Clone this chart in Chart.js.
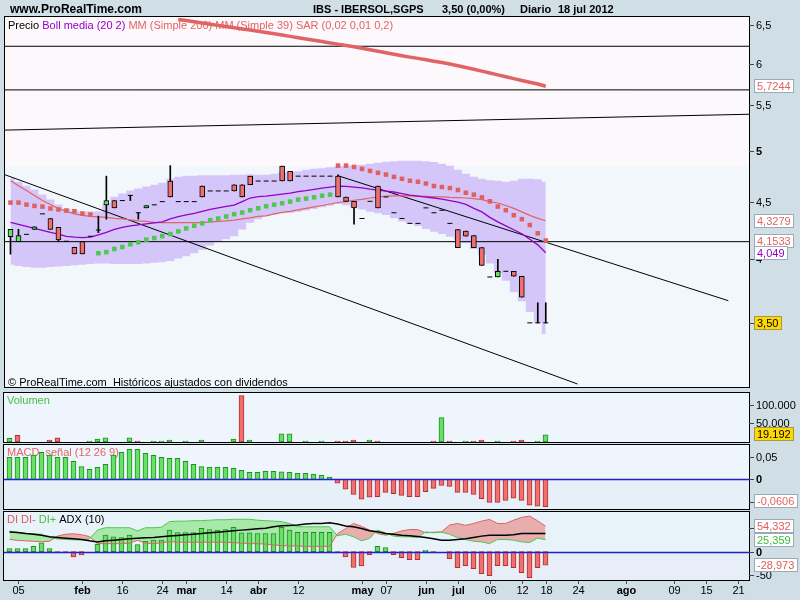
<!DOCTYPE html>
<html><head><meta charset="utf-8"><title>IBS - IBERSOL,SGPS</title>
<script src="https://cdn.jsdelivr.net/npm/chart.js@4.4.1/dist/chart.umd.min.js"></script>
<style>
html,body{margin:0;padding:0;background:#d0dee6;}
body{width:800px;height:600px;position:relative;overflow:hidden}
canvas{position:absolute;left:0}
</style></head>
<body>
<canvas id="cMain" width="800" height="392" style="top:0px"></canvas>
<canvas id="cVol" width="800" height="51" style="top:392px"></canvas>
<canvas id="cMacd" width="800" height="68" style="top:443px"></canvas>
<canvas id="cDi" width="800" height="90" style="top:510px"></canvas>
<script>
// ---------------- DATA ----------------
const open = [4.187,4.144,4.207,4.251,4.39,4.348,4.268,4.147,4.096,4.144,
 4.19,4.245,4.473,4.513,4.513,4.562,4.40,4.445,4.473,4.503,
 4.70,4.503,4.503,4.503,4.652,4.604,4.604,4.604,4.664,4.664,
 4.748,4.70,4.70,4.70,4.848,4.797,4.748,4.748,4.748,4.748,
 4.748,4.748,4.547,4.506,4.348,4.506,4.652,4.547,4.40,4.348,
 4.304,4.304,4.445,4.40,4.423,4.304,4.248,4.236,4.196,4.093,
 3.85,3.85,3.896,3.896,3.856,3.50,3.50,3.50];
const high = [4.251,4.251,4.207,4.274,4.39,4.348,4.268,4.147,4.096,4.144,
 4.19,4.369,4.748,4.513,4.513,4.562,4.40,4.466,4.473,4.503,
 4.853,4.503,4.503,4.503,4.652,4.604,4.604,4.604,4.664,4.664,
 4.748,4.70,4.70,4.70,4.848,4.797,4.748,4.748,4.748,4.748,
 4.748,4.761,4.547,4.506,4.348,4.506,4.652,4.547,4.40,4.348,
 4.304,4.304,4.445,4.40,4.423,4.304,4.248,4.236,4.196,4.093,
 3.85,3.995,3.896,3.896,3.856,3.50,3.649,3.649];
const low = [4.037,4.144,4.207,4.251,4.39,4.251,4.147,4.147,4.039,4.039,
 4.19,4.222,4.342,4.445,4.513,4.513,4.342,4.445,4.473,4.503,
 4.547,4.503,4.503,4.503,4.547,4.604,4.604,4.604,4.604,4.547,
 4.664,4.70,4.70,4.70,4.70,4.70,4.748,4.748,4.748,4.748,
 4.748,4.547,4.506,4.297,4.348,4.506,4.445,4.547,4.40,4.348,
 4.304,4.304,4.445,4.40,4.423,4.304,4.093,4.192,4.093,3.944,
 3.85,3.85,3.896,3.856,3.692,3.50,3.50,3.50];
const close = [4.251,4.196,4.207,4.274,4.39,4.251,4.158,4.147,4.039,4.039,
 4.19,4.245,4.513,4.445,4.513,4.562,4.40,4.466,4.473,4.503,
 4.547,4.503,4.503,4.503,4.547,4.604,4.604,4.604,4.604,4.547,
 4.664,4.70,4.70,4.70,4.70,4.70,4.748,4.748,4.748,4.748,
 4.748,4.547,4.506,4.445,4.348,4.506,4.445,4.547,4.40,4.348,
 4.304,4.304,4.445,4.40,4.423,4.304,4.093,4.192,4.093,3.944,
 3.85,3.896,3.896,3.856,3.692,3.50,3.50,3.50];

const bollUp = [4.733,4.693,4.655,4.617,4.570,4.522,4.477,4.440,4.421,4.412,
 4.412,4.412,4.486,4.550,4.579,4.608,4.627,4.646,4.665,4.684,
 4.723,4.742,4.752,4.752,4.757,4.757,4.757,4.757,4.762,4.762,
 4.767,4.762,4.762,4.772,4.787,4.792,4.797,4.812,4.822,4.827,
 4.837,4.847,4.852,4.857,4.862,4.872,4.882,4.892,4.897,4.902,
 4.902,4.902,4.897,4.889,4.872,4.852,4.812,4.772,4.742,4.723,
 4.708,4.703,4.693,4.703,4.723,4.723,4.718,4.693];
const bollMid = [4.313,4.295,4.277,4.260,4.242,4.225,4.208,4.190,4.182,4.179,
 4.182,4.202,4.225,4.251,4.269,4.282,4.291,4.300,4.309,4.317,
 4.344,4.364,4.380,4.394,4.412,4.431,4.445,4.458,4.470,4.503,
 4.537,4.550,4.555,4.565,4.574,4.584,4.598,4.608,4.620,4.632,
 4.641,4.651,4.649,4.641,4.633,4.622,4.613,4.603,4.594,4.579,
 4.565,4.555,4.546,4.537,4.527,4.513,4.499,4.477,4.440,4.408,
 4.358,4.317,4.282,4.247,4.212,4.164,4.116,4.049];
const bollLow = [3.95,3.94,3.93,3.925,3.925,3.93,3.935,3.94,3.945,3.95,
 3.955,3.96,3.96,3.955,3.955,3.955,3.955,3.96,3.965,3.97,
 3.98,4.00,4.02,4.045,4.075,4.11,4.14,4.165,4.19,4.25,
 4.31,4.34,4.37,4.385,4.395,4.40,4.41,4.42,4.435,4.45,
 4.465,4.48,4.47,4.45,4.43,4.41,4.395,4.38,4.35,4.32,
 4.30,4.28,4.255,4.23,4.21,4.185,4.16,4.13,4.08,4.03,
 3.96,3.88,3.82,3.73,3.66,3.58,3.50,3.42];
const mm39 = [4.703,4.655,4.608,4.560,4.513,4.477,4.440,4.412,4.390,4.376,
 4.367,4.362,4.358,4.349,4.344,4.335,4.326,4.322,4.313,4.310,
 4.310,4.310,4.310,4.310,4.310,4.317,4.322,4.326,4.333,4.344,
 4.353,4.367,4.371,4.390,4.403,4.412,4.426,4.440,4.454,4.467,
 4.481,4.495,4.503,4.516,4.525,4.537,4.546,4.555,4.557,4.557,
 4.557,4.555,4.552,4.550,4.547,4.543,4.541,4.537,4.532,4.522,
 4.503,4.490,4.467,4.440,4.408,4.376,4.349,4.3279];
const mm200 = [null,null,null,null,null,null,null,null,null,null,
 null,null,null,null,null,null,null,null,null,null,
 null,6.577,6.561,6.544,6.528,6.512,6.496,6.480,6.464,6.448,
 6.433,6.417,6.400,6.383,6.366,6.349,6.332,6.315,6.298,6.281,
 6.263,6.245,6.230,6.213,6.194,6.175,6.156,6.137,6.118,6.099,
 6.081,6.065,6.047,6.030,6.013,5.994,5.973,5.951,5.929,5.907,
 5.884,5.861,5.838,5.815,5.792,5.771,5.750,5.7244];
const sar = [4.494,4.494,4.475,4.463,4.457,4.439,4.430,4.420,4.414,4.393,
 4.384,4.045,4.054,4.081,4.098,4.121,4.138,4.161,4.175,4.192,
 4.210,4.233,4.259,4.283,4.304,4.333,4.348,4.366,4.387,4.402,
 4.423,4.441,4.460,4.475,4.488,4.503,4.522,4.531,4.543,4.559,
 4.569,4.853,4.853,4.840,4.820,4.800,4.781,4.764,4.741,4.722,
 4.703,4.693,4.676,4.652,4.642,4.632,4.613,4.587,4.569,4.543,
 4.506,4.457,4.423,4.378,4.342,4.289,4.216,4.1533];

const volume = [10000,18300,null,null,null,5500,11000,null,null,null,
 2700,8200,11000,null,null,11000,2700,null,2700,2700,
 5500,null,2700,null,5500,null,null,null,8200,124900,
 5500,null,null,null,21900,21900,null,2700,null,2700,
 null,2700,2700,5500,null,5500,2700,null,null,null,
 null,null,null,2700,65500,2700,null,2700,2700,5500,
 null,2700,null,2700,5500,null,2700,19192];

const macd = [0.0487,0.0487,0.0487,0.0538,0.0597,0.0538,0.0487,0.0487,0.0398,0.0279,
 0.0221,0.0265,0.0332,0.0538,0.0597,0.0664,0.0664,0.0575,0.0531,0.0487,
 0.0465,0.0465,0.0398,0.0332,0.0279,0.0265,0.0265,0.0265,0.0243,0.0199,
 0.0155,0.0155,0.0177,0.0177,0.0166,0.0155,0.0133,0.0133,0.0117,0.0088,
 0.0051,-0.0088,-0.0221,-0.0332,-0.0442,-0.0398,-0.0385,-0.0288,-0.0319,-0.0354,
 -0.0385,-0.0385,-0.0274,-0.0199,-0.0133,-0.0155,-0.0288,-0.0288,-0.0332,-0.0429,
 -0.0509,-0.0509,-0.0465,-0.0420,-0.0465,-0.0575,-0.0597,-0.0606];

const diHist = [6.4,6.4,6.4,11.4,18.6,6.4,-2.9,-2.9,-11.4,-7.2,
 0,15.7,35,31.5,30,35,15,22,24.3,24.3,
 45.8,40.8,40.8,40.8,49.4,47.2,45.8,47.2,51.5,40,
 40,38.6,38.6,38.6,51.5,45.8,41,41,41,41,
 41,-2.9,-11.4,-34,-30.8,-6.4,11.4,8.6,-6.4,-12.9,
 -17.2,-17.2,2.9,-2.9,0,-15,-34.3,-30,-36.5,-47.2,
 -51.5,-30,-30,-34.3,-45,-55.8,-34.3,-28.973];
const diPlus = [44,41,39,38,37,30,27,26,25,25,
 27,46,51,51,51,51,44,51,51,52,
 64,65,65,66,66,67,68,68,69,69,
 69,67,66,65,64,60,53,53,53,53,
 53,34,37,31.5,23,28,46,40,33,31.5,
 31.5,30,42,40,41.5,37,30,25.7,22,20.7,
 17,25.7,25.7,24.3,20.7,19.3,28.6,25.359];
const diMinus = [26,24,23,22,21,22,33,37,38,36,
 32,17,17,17,17,18,24,18,17,19,
 21,20,20,20,20,20,20,20,19,18,
 17,17,16,14,13,12,12,11,11,11,
 11,38,49,60,54,46,38.6,35,38.6,44,
 47,47,40,41.5,42,56.5,60,56,60,65,
 68.7,60,60,67,73,75.8,65.8,54.332];
const adx = [42,40.8,38.6,37.2,35,31.5,30,28.6,27.2,25.8,
 23,20.7,23,24.3,25.7,27.2,28.6,29.3,30,31.5,
 33,34.3,35.8,37.2,38.6,40,41.5,42.9,44.3,45.8,
 47.2,48.6,50,53,55,55.8,56.5,58.7,60,60,
 61.5,58.7,54.4,53,49.4,44.3,42.2,38.6,37.2,35,
 33.6,32.2,30,27.2,24.3,24.3,25.7,27.2,30,33,
 35,35,35,35.8,38.6,38.6,38.6,38.6];

// drawn support / trend lines: [x0, y0, x1, y1] in (bar index, price)
const hLevels = [6.220, 5.6804, 4.1435];
const trendLines = [[-0.6875, 5.225, 92.4375, 5.40], [-0.6875, 4.762, 70.98, 3.082], [41, 4.752, 89.85, 3.665]];

const xTickBars = [1, 9, 14, 19, 22, 27, 31, 36, 44, 47, 52, 56, 60, 64, 67, 71, 77, 83, 87, 91];
const xTickLabels = ['05','feb','16','24','mar','14','abr','12','may','07','jun','jul','06','12','18','24','ago','09','15','21'];
const priceTicks = [6.5, 6, 5.5, 5, 4.5, 4, 3.5];
const volTicks = [100000, 50000];
const macdTicks = [0.05, 0, -0.05];
const diTicks = [50, 0, -50];

const TITLE = 'IBS - IBERSOL,SGPS';
const DATE_TXT = '18 jul 2012';

// ---------------- HELPERS ----------------
const F = '"Liberation Sans", Arial, Helvetica, sans-serif';
const fnt = (px, b) => (b ? 'bold ' : '') + px + 'px ' + F;
const es = (v, d) => v.toFixed(d).replace('.', ',');
const th = v => String(Math.round(v)).replace(/\B(?=(\d{3})+(?!\d))/g, '.');
const XMIN = -0.6875, XMAX = 92.4375;
const RED = '#f07070', GREEN = '#66e066', RED_B = '#b03030', GREEN_B = '#1f8f1f';
const SALMON = '#e06464', PURPLE = '#9400c8';

const P = arr => arr.map((v, i) => (v === null ? null : {x: i, y: v})).filter(p => p);
const L = (data, color, width, order, extra) => Object.assign({type: 'line', data, borderColor: color, borderWidth: width, pointRadius: 0, fill: false, order}, extra || {});

function opts(ymin, ymax, ytype, padTop, padBottom) {
  return {
    responsive: false, animation: false, events: [], devicePixelRatio: 1,
    layout: {padding: {left: 4, right: 51, top: padTop, bottom: padBottom}},
    scales: {
      x: {type: 'linear', min: XMIN, max: XMAX, display: false, offset: false},
      y: {type: ytype, min: ymin, max: ymax, display: false}
    },
    plugins: {legend: {display: false}, tooltip: {enabled: false}, filler: {drawTime: 'beforeDatasetsDraw'}},
    elements: {line: {tension: 0}}
  };
}

function frame(c) {
  const {ctx, chartArea: a} = c;
  ctx.save(); ctx.strokeStyle = '#000'; ctx.lineWidth = 1;
  ctx.strokeRect(Math.round(a.left) - 0.5, Math.round(a.top) - 0.5, Math.round(a.right - a.left) + 1, Math.round(a.bottom - a.top) + 1);
  ctx.restore();
}
function rightTicks(c, ticks, fmt, boldVals) {
  const {ctx, chartArea: a} = c, y = c.scales.y;
  ctx.save(); ctx.strokeStyle = '#444'; ctx.lineWidth = 1; ctx.fillStyle = '#000';
  ctx.textBaseline = 'middle'; ctx.textAlign = 'left';
  ticks.forEach(t => {
    const py = Math.round(y.getPixelForValue(t)) + 0.5;
    ctx.beginPath(); ctx.moveTo(a.right, py); ctx.lineTo(a.right + 5, py); ctx.stroke();
    ctx.font = fnt(11, boldVals.includes(t));
    ctx.fillText(fmt(t), a.right + 7, py);
  });
  ctx.restore();
}
function tag(c, value, text, color, bg, border) {
  const {ctx, chartArea: a} = c;
  const yc = c.scales.y.getPixelForValue(value);
  ctx.save(); ctx.font = fnt(11);
  const w = Math.ceil(ctx.measureText(text).width) + 6, h = 14;
  let top = Math.round(yc - h / 2);
  top = Math.max(Math.round(a.top), Math.min(top, Math.round(a.bottom) - h - 1));
  const x = Math.round(a.right) + 5;
  ctx.fillStyle = bg; ctx.fillRect(x, top, w, h);
  ctx.strokeStyle = border; ctx.lineWidth = 1; ctx.strokeRect(x + 0.5, top + 0.5, w - 1, h - 1);
  ctx.fillStyle = color; ctx.textBaseline = 'middle'; ctx.textAlign = 'left';
  ctx.fillText(text, x + 3, top + h / 2 + 0.5);
  ctx.restore();
}
// text in canvas-local coordinates, relative to the chart area's top-left corner
function texts(c, dx, dy, parts, px) {
  const {ctx, chartArea: a} = c;
  let x = a.left + dx; const y = a.top + dy;
  ctx.save(); ctx.font = fnt(px || 11); ctx.textBaseline = 'middle'; ctx.textAlign = 'left';
  parts.forEach(([t, col]) => { ctx.fillStyle = col; ctx.fillText(t, x, y); x += ctx.measureText(t).width; });
  ctx.restore();
}
function twoToneBg(c, splitVal, colTop, colBottom) {
  const {ctx, chartArea: a} = c;
  const ys = Math.round(c.scales.y.getPixelForValue(splitVal));
  ctx.save();
  ctx.fillStyle = colTop; ctx.fillRect(a.left, a.top, a.right - a.left, ys - a.top);
  ctx.fillStyle = colBottom; ctx.fillRect(a.left, ys, a.right - a.left, a.bottom - ys);
  ctx.restore();
}
function zeroLine(c) {
  const {ctx, chartArea: a} = c;
  const y0 = Math.round(c.scales.y.getPixelForValue(0)) + 0.5;
  ctx.save(); ctx.strokeStyle = '#2222cc'; ctx.lineWidth = 1.5;
  ctx.beginPath(); ctx.moveTo(a.left, y0); ctx.lineTo(a.right, y0); ctx.stroke(); ctx.restore();
}

const N = close.length;
const last = N - 1;

// ---------------- MAIN PRICE CHART ----------------
const wicks = [], bodies = [], bodyFill = [], dojis = [];
for (let i = 0; i < N; i++) {
  if (high[i] > low[i]) wicks.push({x: i, y: [low[i], high[i]]});
  if (open[i] !== close[i]) {
    bodies.push({x: i, y: [Math.min(open[i], close[i]), Math.max(open[i], close[i])]});
    bodyFill.push(close[i] > open[i] ? GREEN : RED);
  } else dojis.push({x: i, y: close[i]});
}
const sarColors = sar.map((v, i) => (v > close[i] ? '#e06060' : '#4cc84c'));

const mainSets = [
  L(P(bollUp), 'transparent', 0, 100, {fill: '+1', backgroundColor: '#d5c6f9', stepped: 'middle'}),
  L(P(bollLow), 'transparent', 0, 99, {stepped: 'middle'})
];
hLevels.forEach(v => mainSets.push(L([{x: XMIN, y: v}, {x: XMAX, y: v}], '#000', 1, 90)));
trendLines.forEach(t => mainSets.push(L([{x: t[0], y: t[1]}, {x: t[2], y: t[3]}], '#000', 1, 90)));
mainSets.push(L(P(mm39), SALMON, 1.2, 80));
mainSets.push(L(P(bollMid), PURPLE, 1.3, 79));
mainSets.push({type: 'scatter', data: P(sar), pointStyle: 'rect', pointRadius: 3.2, pointBackgroundColor: sarColors, pointBorderWidth: 0, order: 70});
mainSets.push({type: 'bar', data: wicks, backgroundColor: '#000', borderWidth: 0, barThickness: 1, grouped: false, order: 60});
mainSets.push({type: 'bar', data: bodies, backgroundColor: bodyFill, borderColor: '#000', borderWidth: 1, borderSkipped: false, barThickness: 5, grouped: false, order: 50});
mainSets.push({type: 'scatter', data: dojis, pointStyle: 'line', pointRadius: 2.5, pointBorderColor: '#000', pointBorderWidth: 1, order: 49});
mainSets.push(L(P(mm200), SALMON, 3.5, 10));

const chg = (close[last] / close[last - 1] - 1) * 100;
const mainDeco = {
  id: 'mainDeco',
  beforeDraw(c) {
    const ctx = c.ctx;
    ctx.save(); ctx.fillStyle = '#000'; ctx.textBaseline = 'middle'; ctx.textAlign = 'left';
    ctx.font = fnt(12, true);
    ctx.fillText('www.ProRealTime.com', 10, 10);
    ctx.font = fnt(11, true);
    ctx.fillText(TITLE, 313, 10);
    ctx.fillText(es(close[last], 2) + ' (' + es(chg, 2) + '%)', 442, 10);
    ctx.fillText('Diario', 520, 10);
    ctx.fillText(DATE_TXT, 558, 10);
    ctx.restore();
    twoToneBg(c, 4.85, '#fdf8fb', '#f2f7fc');
  },
  beforeDatasetsDraw(c) {
    texts(c, 3, 9, [['Precio ', '#000'], ['Boll media (20 2) ', PURPLE], ['MM (Simple 200) ', SALMON], ['MM (Simple 39) ', SALMON], ['SAR (0,02 0,01 0,2)', SALMON]]);
    texts(c, 3, 366, [['\u00A9 ProRealTime.com  Hist\u00F3ricos ajustados con dividendos', '#000']]);
  },
  afterDraw(c) {
    frame(c);
    rightTicks(c, priceTicks, v => es(v, v % 1 ? 1 : 0), [5]);
    tag(c, mm200[last], es(mm200[last], 4), SALMON, '#fff', '#9aabb8');
    tag(c, mm39[last], es(mm39[last], 4), SALMON, '#fff', '#9aabb8');
    tag(c, sar[last], es(sar[last], 4), SALMON, '#fff', '#9aabb8');
    tag(c, bollMid[last], es(bollMid[last], 3), PURPLE, '#fff', '#9aabb8');
    tag(c, close[last], es(close[last], 2), '#000', '#ffd800', '#a09a50');
  }
};
new Chart(document.getElementById('cMain'), {
  type: 'line', data: {datasets: mainSets},
  options: opts(3.063, 6.61, 'logarithmic', 17, 2), plugins: [mainDeco]
});

// ---------------- VOLUME ----------------
const volPts = [], volFill = [], volBorder = [];
volume.forEach((v, i) => {
  if (v === null) return;
  const up = i === 0 || close[i] >= close[i - 1];
  volPts.push({x: i, y: v}); volFill.push(up ? GREEN : RED); volBorder.push(up ? GREEN_B : RED_B);
});
const volDeco = {
  id: 'volDeco',
  beforeDraw(c) { twoToneBg(c, 0, '#eef5fc', '#eef5fc'); },
  beforeDatasetsDraw(c) { texts(c, 3, 8, [['Volumen', '#44c044']]); },
  afterDraw(c) {
    frame(c);
    rightTicks(c, volTicks, th, []);
    tag(c, volume[last], th(volume[last]), '#000', '#ffd800', '#a09a50');
  }
};
new Chart(document.getElementById('cVol'), {
  type: 'bar',
  data: {datasets: [{data: volPts, backgroundColor: volFill, borderColor: volBorder, borderWidth: 1, borderSkipped: false, barThickness: 5, grouped: false}]},
  options: opts(0, 132000, 'linear', 1, 1), plugins: [volDeco]
});

// ---------------- MACD ----------------
const macdDeco = {
  id: 'macdDeco',
  beforeDraw(c) { twoToneBg(c, 0, '#eef5fc', '#e7eff8'); },
  beforeDatasetsDraw(c) { texts(c, 3, 8, [['MACD, se\u00F1al (12 26 9)', SALMON]]); },
  afterDatasetsDraw(c) { zeroLine(c); },
  afterDraw(c) {
    frame(c);
    rightTicks(c, macdTicks, v => (v === 0 ? '0' : es(v, 2)), [0]);
    tag(c, macd[last], es(macd[last], 4), SALMON, '#fff', '#9aabb8');
  }
};
new Chart(document.getElementById('cMacd'), {
  type: 'bar',
  data: {datasets: [{data: P(macd), backgroundColor: macd.map(v => (v >= 0 ? GREEN : RED)), borderColor: macd.map(v => (v >= 0 ? GREEN_B : RED_B)), borderWidth: 1, borderSkipped: false, barThickness: 5, grouped: false}]},
  options: opts(-0.0657, 0.0759, 'linear', 2, 2), plugins: [macdDeco]
});

// ---------------- DI / ADX ----------------
const diDeco = {
  id: 'diDeco',
  beforeDraw(c) { twoToneBg(c, 0, '#e8f3f9', '#e7eef7'); },
  beforeDatasetsDraw(c) { texts(c, 3, 8, [['DI DI- ', '#e05a5a'], ['DI+ ', '#44c044'], ['ADX (10)', '#000']]); },
  afterDatasetsDraw(c) { zeroLine(c); },
  afterDraw(c) {
    frame(c);
    rightTicks(c, diTicks, v => String(v), [0]);
    tag(c, diMinus[last], es(diMinus[last], 3), '#e05a5a', '#fff', '#9aabb8');
    tag(c, diPlus[last], es(diPlus[last], 3), '#3cb83c', '#fff', '#9aabb8');
    tag(c, diHist[last], es(diHist[last], 3), '#e05a5a', '#fff', '#9aabb8');
    // x axis (shared time axis)
    const {ctx, chartArea: a} = c, x = c.scales.x;
    ctx.save(); ctx.strokeStyle = '#555'; ctx.lineWidth = 1; ctx.fillStyle = '#000';
    ctx.textAlign = 'center'; ctx.textBaseline = 'middle';
    xTickBars.forEach((b, k) => {
      const px = Math.round(x.getPixelForValue(b)) + 0.5;
      ctx.beginPath(); ctx.moveTo(px, a.bottom + 1); ctx.lineTo(px, a.bottom + 4); ctx.stroke();
      const lab = xTickLabels[k];
      ctx.font = fnt(11, /[a-z]/.test(lab));
      ctx.fillText(lab, px, a.bottom + 11);
    });
    ctx.restore();
  }
};
new Chart(document.getElementById('cDi'), {
  type: 'line',
  data: {datasets: [
    L(P(diPlus), '#50c850', 1, 20, {fill: {target: 1, above: '#a8e8a8', below: '#e8aeae'}}),
    L(P(diMinus), '#e06060', 1, 21),
    L(P(adx), '#000', 1.5, 5),
    {type: 'bar', data: P(diHist), backgroundColor: diHist.map(v => (v >= 0 ? GREEN : RED)), borderColor: diHist.map(v => (v >= 0 ? GREEN_B : RED_B)), borderWidth: 1, borderSkipped: false, barThickness: 5, grouped: false, order: 30}
  ]},
  options: opts(-60.7, 84.5, 'linear', 2, 20), plugins: [diDeco]
});
</script>
</body></html>
